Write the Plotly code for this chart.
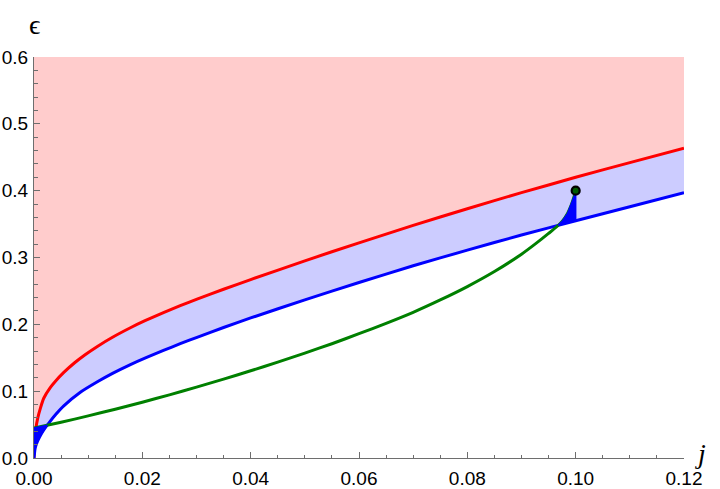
import numpy as np
import plotly.graph_objects as go

# ---- data ----
red_j = [0, 0.0001, 0.0003, 0.0007, 0.0012, 0.0018, 0.003, 0.004, 0.0055, 0.0075,
         0.0095, 0.0117, 0.0145, 0.0178, 0.0205, 0.0239, 0.027, 0.0301, 0.035,
         0.04, 0.05, 0.06, 0.07, 0.08, 0.09, 0.10, 0.11, 0.12]
red_e = [0, 0.025, 0.042, 0.060, 0.075, 0.0894, 0.1053, 0.1153, 0.1281, 0.1425,
         0.1549, 0.167, 0.1807, 0.1949, 0.2054, 0.2176, 0.228, 0.2378, 0.2525,
         0.267, 0.295, 0.322, 0.348, 0.373, 0.397, 0.420, 0.442, 0.4635]

blue_j = [0, 0.0002, 0.0005, 0.001, 0.0018, 0.0028, 0.004, 0.0055, 0.0085, 0.0117,
          0.0145, 0.0178, 0.0208, 0.0239, 0.027, 0.0301, 0.035, 0.04, 0.05, 0.06,
          0.07, 0.08, 0.09, 0.10, 0.11, 0.12]
blue_e = [0, 0.014, 0.022, 0.031, 0.042, 0.053, 0.065, 0.078, 0.098, 0.114,
          0.1266, 0.1398, 0.1506, 0.161, 0.171, 0.1806, 0.1953, 0.2096, 0.2366, 0.2626,
          0.2876, 0.311, 0.3336, 0.355, 0.376, 0.397]

green_j = [0, 0.005, 0.01, 0.015, 0.02, 0.025, 0.03, 0.035, 0.04, 0.045, 0.05, 0.055,
           0.06, 0.065, 0.07, 0.075, 0.08, 0.085, 0.09, 0.0925, 0.095, 0.0965, 0.0975,
           0.0985, 0.0992, 0.0997, 0.1]
green_e = [0.045, 0.0535, 0.063, 0.073, 0.0835, 0.0945, 0.106, 0.118, 0.1305, 0.1435,
           0.157, 0.171, 0.186, 0.2015, 0.218, 0.2365, 0.2565, 0.279, 0.305, 0.320,
           0.336, 0.346, 0.354, 0.366, 0.379, 0.391, 0.40]

point_j = [0.1]
point_e = [0.4]

x_ticks = [0.0, 0.02, 0.04, 0.06, 0.08, 0.10, 0.12]
y_ticks = [0.0, 0.1, 0.2, 0.3, 0.4, 0.5, 0.6]
x_max, y_max = 0.12, 0.6

PINK = "rgb(255,204,204)"
LAV = "rgb(204,204,255)"
RED = "rgb(255,0,0)"
BLUE = "rgb(0,0,255)"
GREEN = "rgb(0,128,0)"
AX = "rgb(110,110,110)"
LW = 3


def crossing(j_lo, j_hi):
    """where the green curve meets the blue curve inside [j_lo, j_hi]"""
    g = np.linspace(j_lo, j_hi, 400)
    d = np.interp(g, green_j, green_e) - np.interp(g, blue_j, blue_e)
    k = np.argmin(np.abs(d))
    return float(g[k]), float(np.interp(g[k], blue_j, blue_e))


fig = go.Figure()

# pink region above the red curve
fig.add_trace(go.Scatter(x=red_j + [x_max, 0], y=red_e + [y_max, y_max],
                         fill="toself", fillcolor=PINK, mode="none", hoverinfo="skip"))
# lavender band between red and blue
fig.add_trace(go.Scatter(x=red_j + blue_j[::-1], y=red_e + blue_e[::-1],
                         fill="toself", fillcolor=LAV, mode="none", hoverinfo="skip"))

# curves
line_shape = dict(shape="spline", smoothing=0.5)
fig.add_trace(go.Scatter(x=red_j, y=red_e, mode="lines",
                         line=dict(color=RED, width=LW, **line_shape)))
fig.add_trace(go.Scatter(x=blue_j, y=blue_e, mode="lines",
                         line=dict(color=BLUE, width=LW, **line_shape)))
fig.add_trace(go.Scatter(x=green_j, y=green_e, mode="lines",
                         line=dict(color=GREEN, width=LW, **line_shape)))

# blue spike near the origin
j0, e0 = crossing(0.0005, 0.005)
bx = [j for j in blue_j if j < j0] + [j0]
by = [e for j, e in zip(blue_j, blue_e) if j < j0] + [e0]
gx = [j for j in green_j if j < j0][::-1]
gy = [e for j, e in zip(green_j, green_e) if j < j0][::-1]
fig.add_trace(go.Scatter(x=bx + gx, y=by + gy, fill="toself", fillcolor=BLUE,
                         mode="lines", line=dict(color=BLUE, width=1.5), hoverinfo="skip"))

# blue spike near j = 0.1
j1, e1 = crossing(0.09, 0.0999)
sx = [j1] + [j for j in green_j if j > j1]
sy = [e1] + [e for j, e in zip(green_j, green_e) if j > j1]
b_end = float(np.interp(point_j[0], blue_j, blue_e))
sx += [point_j[0], j1]
sy += [b_end, e1]
fig.add_trace(go.Scatter(x=sx, y=sy, fill="toself", fillcolor=BLUE,
                         mode="lines", line=dict(color=BLUE, width=1.5), hoverinfo="skip"))

# end point
fig.add_trace(go.Scatter(x=point_j, y=point_e, mode="markers",
                         marker=dict(size=8, color="rgb(0,90,0)",
                                     line=dict(color="black", width=2.2))))

tick_font = dict(family="Liberation Sans, Arial, sans-serif", size=19, color="black")
common = dict(showgrid=False, zeroline=False, showline=True, linecolor=AX, linewidth=1,
              ticks="inside", ticklen=6, tickcolor=AX, tickwidth=1,
              tickfont=tick_font, fixedrange=True, automargin=False)
fig.update_layout(
    width=720, height=489,
    margin=dict(l=34, r=36, t=57, b=31, autoexpand=False),
    paper_bgcolor="white", plot_bgcolor="white",
    showlegend=False,
    xaxis=dict(range=[0, x_max], tickvals=x_ticks, tickformat=".2f",
               minor=dict(dtick=0.005, ticks="inside", ticklen=3.5, tickcolor=AX,
                          tickwidth=1, showgrid=False),
               ticklabelstandoff=3, **common),
    yaxis=dict(range=[0, y_max], tickvals=y_ticks, tickformat=".1f",
               minor=dict(dtick=0.02, ticks="inside", ticklen=3.5, tickcolor=AX,
                          tickwidth=1, showgrid=False),
               ticklabelstandoff=1, **common),
    annotations=[
        dict(text="\u03f5", xref="paper", yref="paper", x=0, y=1.081,
             xanchor="center", yanchor="middle", showarrow=False,
             font=dict(family="Liberation Serif, DejaVu Serif, serif", size=28, color="black")),
        dict(text="<i>j</i>", xref="paper", yref="paper", x=1.025, y=0.012,
             xanchor="center", yanchor="middle", showarrow=False,
             font=dict(family="Liberation Serif, DejaVu Serif, serif", size=28, color="black")),
    ],
)

fig.write_html(
    "out.html",
    config={"displayModeBar": False, "responsive": False},
    post_script="document.body.style.margin='0px';document.body.style.overflow='hidden';",
)
